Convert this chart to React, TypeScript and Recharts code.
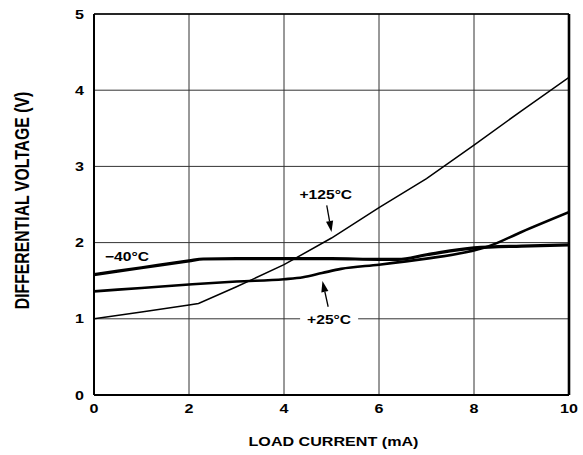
import React from 'react';
import { LineChart, Line, XAxis, YAxis, CartesianGrid, ReferenceLine, ReferenceDot, Label } from 'recharts';

// values (mA -> V)
const currentM40 = [0, 1, 2, 2.3, 3, 4, 5, 6, 6.4, 7, 8, 9, 10];
const voltM40 = [1.58, 1.67, 1.76, 1.785, 1.79, 1.79, 1.79, 1.78, 1.78, 1.84, 1.93, 1.955, 1.97];

const current25 = [0, 1, 2, 3, 4, 4.4, 4.8, 5.2, 6, 7, 7.8, 8.3, 9, 10];
const volt25 = [1.36, 1.405, 1.45, 1.49, 1.52, 1.545, 1.6, 1.655, 1.71, 1.79, 1.87, 1.95, 2.14, 2.4];

const current125 = [0, 1, 2, 2.2, 3, 4, 5, 6, 7, 8, 9, 10];
const volt125 = [1.0, 1.09, 1.18, 1.2, 1.42, 1.71, 2.06, 2.46, 2.84, 3.28, 3.73, 4.17];

const xTicks = [0, 2, 4, 6, 8, 10];
const yTicks = [0, 1, 2, 3, 4, 5];

const toRows = (xs: number[], ys: number[]) => xs.map((x, i) => ({ x, v: ys[i] }));
const dataM40 = toRows(currentM40, voltM40);
const data25 = toRows(current25, volt25);
const data125 = toRows(current125, volt125);

const FONT = '"Liberation Sans", Arial, Helvetica, sans-serif';
const SX = 1.24;

const XTick = ({ x, y, payload }: any) => (
  <text transform={`translate(${x},${y + 18}) scale(${SX},1)`} textAnchor="middle"
    fontFamily={FONT} fontWeight="bold" fontSize={13} fill="#000">
    {payload.value}
  </text>
);

const YTick = ({ x, y, payload }: any) => (
  <text transform={`translate(${x - 10},${y + 4.6}) scale(${SX},1)`} textAnchor="end"
    fontFamily={FONT} fontWeight="bold" fontSize={13} fill="#000">
    {payload.value}
  </text>
);

const XTitle = ({ viewBox }: any) => (
  <text transform={`translate(${viewBox.x + viewBox.width / 2 + 2},${viewBox.y + 51}) scale(${SX},1)`}
    textAnchor="middle" fontFamily={FONT} fontWeight="bold" fontSize={13} fill="#000">
    LOAD CURRENT (mA)
  </text>
);

const YTitle = ({ viewBox }: any) => (
  <text transform={`translate(29,${viewBox.y + viewBox.height / 2 - 4}) scale(${SX},1) rotate(-90)`}
    textAnchor="middle" fontFamily={FONT} fontWeight="bold" fontSize={15.8} fill="#000">
    DIFFERENTIAL VOLTAGE (V)
  </text>
);

const tag = (text: string, anchor: 'start' | 'middle', gap = false) => (p: any) => (
  <g>
    {gap && <rect x={p.cx - 29} y={p.cy - 7} width={58} height={14} fill="#fff" />}
    <text transform={`translate(${p.cx},${p.cy}) scale(${SX},1)`} dy="0.36em" textAnchor={anchor}
      fontFamily={FONT} fontWeight="bold" fontSize={12.6} fill="#000">
      {text}
    </text>
  </g>
);

const Arrow = (p: any) => {
  const { x1, y1, x2, y2 } = p;
  const a = Math.atan2(y2 - y1, x2 - x1);
  const len = 11;
  const w = 3.6;
  const bx = x2 - len * Math.cos(a);
  const by = y2 - len * Math.sin(a);
  const pts = `${x2},${y2} ${bx + w * Math.sin(a)},${by - w * Math.cos(a)} ${bx - w * Math.sin(a)},${by + w * Math.cos(a)}`;
  return (
    <g>
      <line x1={x1} y1={y1} x2={bx} y2={by} stroke="#000" strokeWidth={1.3} />
      <polygon points={pts} fill="#000" />
    </g>
  );
};

export default function App() {
  return (
    <div style={{ position: 'absolute', left: 0, top: 0, width: 583, height: 455, background: '#fff' }}>
      <LineChart width={583} height={455} margin={{ top: 14, right: 14, bottom: 0, left: 0 }}>
        <CartesianGrid stroke="#333" strokeWidth={1} />
        <XAxis type="number" dataKey="x" domain={[0, 10]} ticks={xTicks} height={60}
          tickLine={false} tickSize={0} tickMargin={0} tick={<XTick />}
          axisLine={{ stroke: '#000', strokeWidth: 2.2 }} allowDataOverflow>
          <Label content={<XTitle />} />
        </XAxis>
        <YAxis type="number" domain={[0, 5]} ticks={yTicks} width={94}
          tickLine={false} tickSize={0} tickMargin={0} tick={<YTick />}
          axisLine={{ stroke: '#000', strokeWidth: 2 }} allowDataOverflow>
          <Label content={<YTitle />} />
        </YAxis>
        <ReferenceLine y={5} stroke="#000" strokeWidth={1.6} />
        <ReferenceLine x={10} stroke="#000" strokeWidth={2.6} />
        <Line data={data125} dataKey="v" type="linear" stroke="#000" strokeWidth={1.5}
          dot={false} isAnimationActive={false} />
        <Line data={data25} dataKey="v" type="monotone" stroke="#000" strokeWidth={2.6}
          dot={false} isAnimationActive={false} />
        <Line data={dataM40} dataKey="v" type="monotone" stroke="#000" strokeWidth={3.2}
          dot={false} isAnimationActive={false} />
        <ReferenceDot x={4.88} y={2.63} r={0} shape={tag('+125°C', 'middle')} />
        <ReferenceDot x={0.23} y={1.815} r={0} shape={tag('\u221240°C', 'start')} />
        <ReferenceDot x={4.95} y={0.995} r={0} shape={tag('+25°C', 'middle', true)} />
        <ReferenceLine segment={[{ x: 4.9, y: 2.49 }, { x: 5.0, y: 2.14 }]} shape={<Arrow />} />
        <ReferenceLine segment={[{ x: 4.93, y: 1.158 }, { x: 4.81, y: 1.496 }]} shape={<Arrow />} />
      </LineChart>
    </div>
  );
}
